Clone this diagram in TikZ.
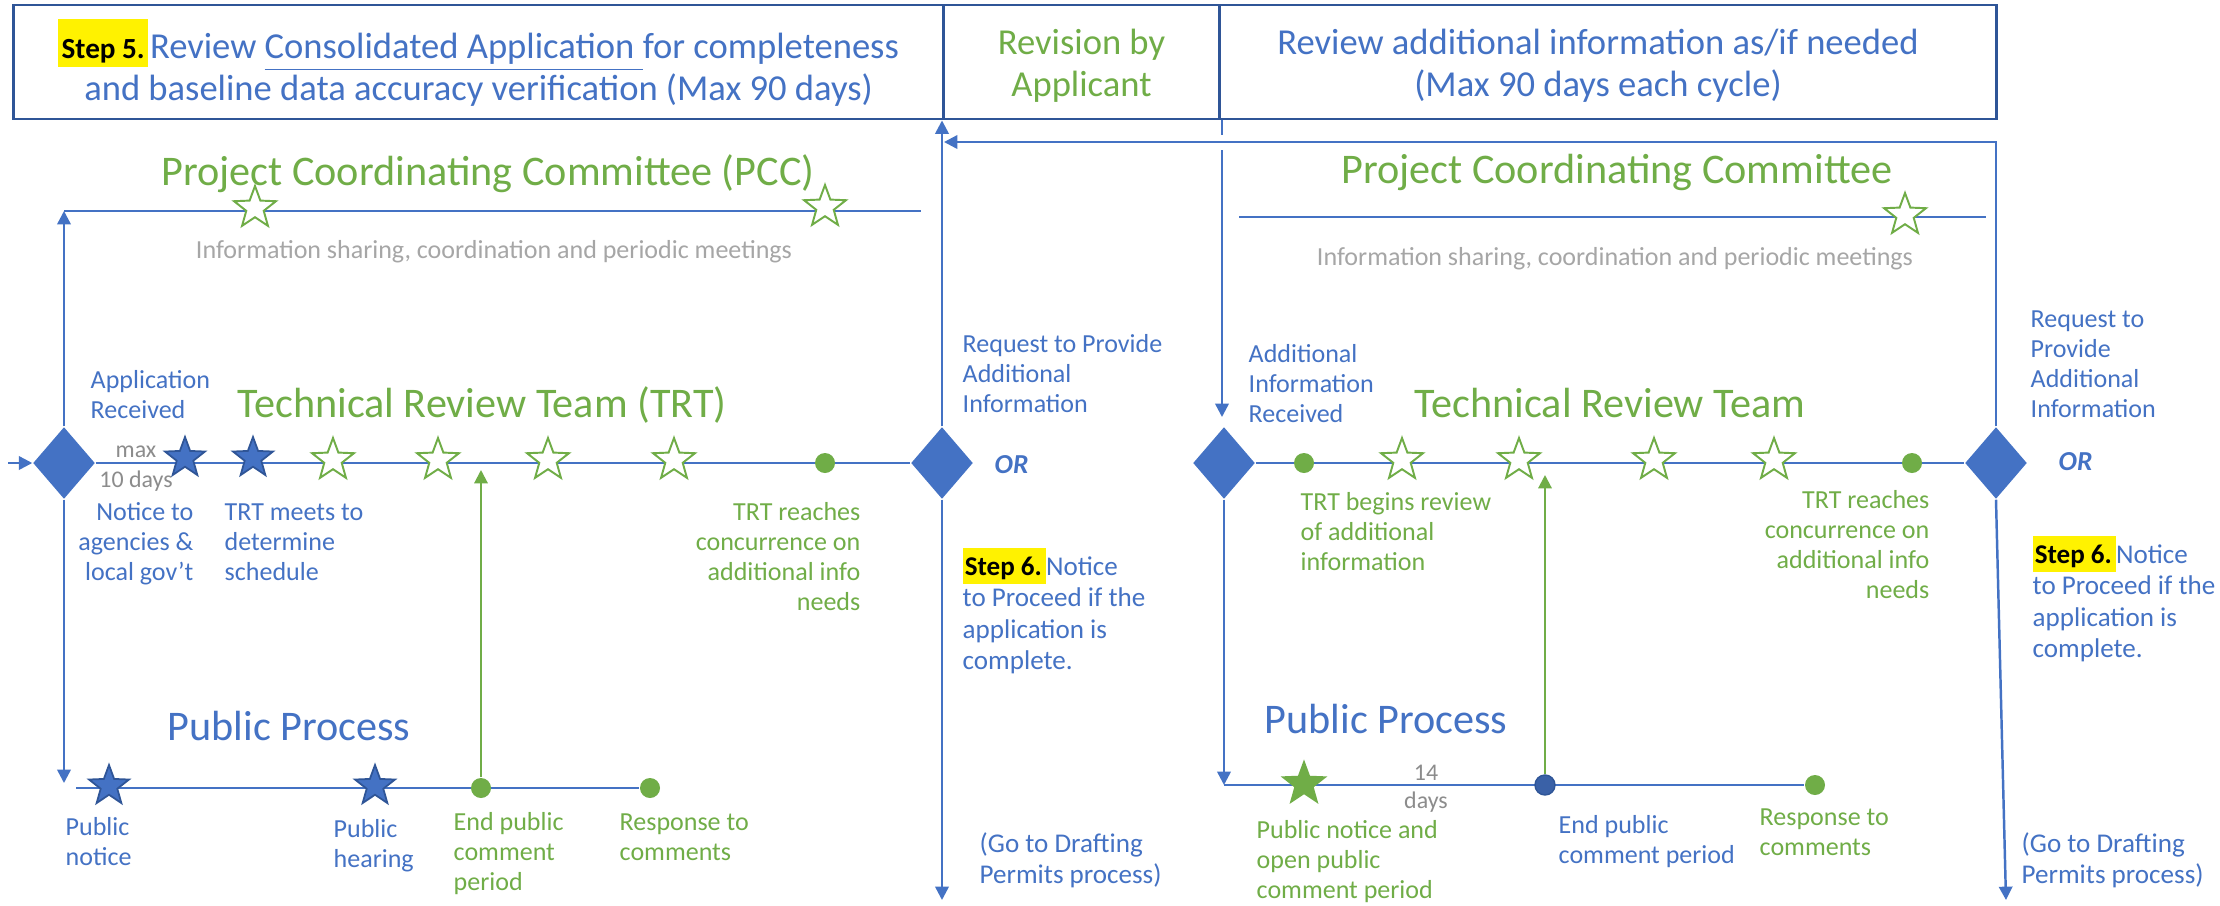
\documentclass[tikz,border=0pt]{standalone}
\usepackage{fontspec}
\setmainfont{Carlito}
\usetikzlibrary{shapes.geometric,arrows.meta,backgrounds}
\definecolor{ob}{HTML}{4472C4}
\definecolor{obd}{HTML}{2F5597}
\definecolor{og}{HTML}{70AD47}
\definecolor{gr}{HTML}{A6A6A6}
\definecolor{gd}{HTML}{8C8C8C}
\newcommand\fsm{\fontsize{7.4}{8.6}\selectfont}
\newcommand\fsx{\fontsize{7.7}{9}\selectfont}
\newcommand\fbg{\fontsize{12}{14}\selectfont}
\newcommand\fti{\fontsize{10.4}{12}\selectfont}
\newcommand\ftn{\fontsize{6.8}{8}\selectfont}
\newcommand\lft[1]{\begin{tabular}[t]{@{}l@{}}#1\end{tabular}}
\newcommand\rgt[1]{\begin{tabular}[t]{@{}r@{}}#1\end{tabular}}
\newcommand\hltA[1]{{\setlength{\fboxsep}{0pt}\colorbox{yellow}{\rule[-2.3pt]{0pt}{13.4pt}\kern1pt\textcolor{black}{\bfseries #1}\kern1pt}}}
\newcommand\hltB[1]{{\setlength{\fboxsep}{0pt}\colorbox{yellow}{\rule[-2.6pt]{0pt}{10.3pt}\kern0.6pt\textcolor{black}{\bfseries #1}\kern1.2pt}}}
\tikzset{
  ln/.style={draw=ob, line width=0.7pt},
  gln/.style={draw=og, line width=0.6pt},
  arr/.style={-{Triangle[length=3.8pt,width=3.8pt]}},
  dia/.style={diamond, fill=ob, inner sep=0pt, minimum width=0.62cm, minimum height=0.72cm},
  ostar/.style={star, star points=5, star point ratio=2.4, draw=og, fill=white, line width=0.55pt, minimum size=0.44cm, inner sep=0pt},
  bstar/.style={star, star points=5, star point ratio=2.4, draw=obd, fill=ob, line width=0.5pt, minimum size=0.42cm, inner sep=0pt},
  gstar/.style={star, star points=5, star point ratio=2.4, draw=og, fill=og, line width=0.5pt, minimum size=0.44cm, inner sep=0pt},
  gdot/.style={circle, fill=og, inner sep=0pt, minimum size=0.2cm},
  bdot/.style={circle, fill=ob!85!black, draw=obd, line width=0.4pt, inner sep=0pt, minimum size=0.2cm},
  tbox/.style={draw=obd, line width=0.8pt, minimum height=1.14cm, inner sep=0pt},
  ttxt/.style={inner sep=0pt, align=center, font=\fti},
  lbl/.style={inner sep=0pt, font=\fsm},
  big/.style={inner sep=0pt, anchor=base, font=\fbg},
}
\begin{document}
\begin{tikzpicture}[x=0.01cm, y=-0.01cm]
\useasboundingbox (0,0) rectangle (2220,905);
% top boxes
\node[tbox, minimum width=9.29cm] (B1) at (478.5,62) {};
\node[tbox, minimum width=2.77cm] (B2) at (1081.5,62) {};
\node[tbox, minimum width=7.76cm] (B3) at (1608,62) {};
\node[ttxt, text=ob] (T1) at (478.5,63)
  {\hltA{\fontsize{8.3}{10}\selectfont Step 5.}\kern0.5pt Review \underline{Consolidated Application\ }for completeness\\ and baseline data accuracy verification (Max 90 days)};
\node[ttxt, text=og] (T2) at (1081.5,66) {Revision by\\ Applicant};
\node[ttxt, text=ob] (T3) at (1598,66) {Review additional information as/if needed\\ (Max 90 days each cycle)};

% diamonds
\node[dia] (D1) at (64,463) {};
\node[dia] (D2) at (942,463) {};
\node[dia] (D3) at (1224,463) {};
\node[dia] (D4) at (1996,463) {};

% left PCC
\coordinate (P1a) at (64,211);
\coordinate (P1b) at (921,211);
\node[ostar] (s1) at (255,208) {};
\node[ostar] (s2) at (825,207) {};
\node[big, text=og] (pcc1) at (488,185) {Project Coordinating Committee (PCC)};
\node[lbl, anchor=base, text=gr] (inf1) at (494,258) {Information sharing, coordination and periodic meetings};

% left TRT
\node[big, text=og] (trt1) at (482,417) {Technical Review Team (TRT)};
\node[lbl, anchor=base west, text=ob] (apr) at (90,388) {\lft{Application\\ Received}};
\node[inner sep=0pt, anchor=base, font=\ftn, text=gd] (mx) at (136,457) {max};
\node[inner sep=0pt, anchor=base, font=\ftn, text=gd] (td) at (136,487) {10 days};
\node[bstar] (b1) at (185,458) {};
\node[bstar] (b2) at (253,458) {};
\node[ostar] (t1) at (333,460) {};
\node[ostar] (t2) at (438,460) {};
\node[ostar] (t3) at (548,460) {};
\node[ostar] (t4) at (674,460) {};
\node[gdot] (g1) at (825,463) {};
\node[lbl, anchor=base east, text=ob] (nta) at (194,520) {\rgt{Notice to\\ agencies \&\\ local gov't}};
\node[lbl, anchor=base west, text=ob] (tmd) at (224,520) {\lft{TRT meets to\\ determine\\ schedule}};
\node[lbl, anchor=base east, text=og] (trc1) at (861,520) {\rgt{TRT reaches\\ concurrence on\\ additional info\\ needs}};

% left public
\node[big, text=ob] (pp1) at (289,740) {Public Process};
\coordinate (PL0) at (76,788);
\node[bstar] (b3) at (109,786) {};
\node[bstar] (b4) at (375,786) {};
\node[gdot] (g2) at (481,788) {};
\node[gdot] (g3) at (650,788) {};
\node[lbl, anchor=base west, text=ob] (pn) at (65,835) {\lft{Public\\ notice}};
\node[lbl, anchor=base west, text=ob] (ph) at (333,837) {\lft{Public\\ hearing}};
\node[lbl, anchor=base west, text=og] (ep1) at (453,830) {\lft{End public\\ comment\\ period}};
\node[lbl, anchor=base west, text=og] (rc1) at (619,830) {\lft{Response to\\ comments}};

% middle
\node[lbl, anchor=base west, text=ob] (rq1) at (962,352) {\lft{Request to Provide\\ Additional\\ Information}};
\node[inner sep=0pt, anchor=base west, font=\fontsize{7.8}{9}\selectfont\bfseries\itshape, text=ob] (or1) at (994,473) {OR};
\node[inner sep=0pt, anchor=base west, font=\fsx, text=ob] (st1) at (962,575) {\lft{\hltB{Step 6.}Notice\\ to Proceed if the\\ application is\\ complete.}};
\node[inner sep=0pt, anchor=base west, font=\fsx, text=ob] (gt1) at (979,852) {\lft{(Go to Drafting\\ Permits process)}};

% right PCC
\node[big, text=og] (pcc2) at (1617,183) {Project Coordinating Committee};
\coordinate (P2a) at (1239,217);
\coordinate (P2b) at (1986,217);
\node[ostar] (s3) at (1905,215) {};
\node[lbl, anchor=base, text=gr] (inf2) at (1615,265) {Information sharing, coordination and periodic meetings};

% right TRT
\node[big, text=og] (trt2) at (1610,417) {Technical Review Team};
\node[lbl, anchor=base west, text=ob] (air) at (1248,362) {\lft{Additional\\ Information\\ Received}};
\node[gdot] (g4) at (1304,463) {};
\node[ostar] (t5) at (1402,460) {};
\node[ostar] (t6) at (1519,460) {};
\node[ostar] (t7) at (1654,460) {};
\node[ostar] (t8) at (1774,460) {};
\node[gdot] (g5) at (1912,463) {};
\node[lbl, anchor=base west, text=og] (tbr) at (1300,510) {\lft{TRT begins review\\ of additional\\ information}};
\node[lbl, anchor=base east, text=og] (trc2) at (1930,508) {\rgt{TRT reaches\\ concurrence on\\ additional info\\ needs}};
\node[lbl, anchor=base west, text=ob] (rq2) at (2030,327) {\lft{Request to\\ Provide\\ Additional\\ Information}};
\node[inner sep=0pt, anchor=base west, font=\fontsize{7.8}{9}\selectfont\bfseries\itshape, text=ob] (or2) at (2058,470) {OR};
\node[inner sep=0pt, anchor=base west, font=\fsx, text=ob] (st2) at (2032,563) {\lft{\hltB{Step 6.}Notice\\ to Proceed if the\\ application is\\ complete.}};
\node[inner sep=0pt, anchor=base west, font=\fsx, text=ob] (gt2) at (2021,852) {\lft{(Go to Drafting\\ Permits process)}};

% right public
\node[big, text=ob] (pp2) at (1386,733) {Public Process};
\coordinate (PR0) at (1224,785);
\node[gstar] (gs) at (1304,784) {};
\node[inner sep=0pt, anchor=base, font=\ftn, text=gd] (n14) at (1426,780) {14};
\node[inner sep=0pt, anchor=base, font=\ftn, text=gd] (nd) at (1426,808) {days};
\node[bdot] (bd) at (1545,785) {};
\node[gdot] (g6) at (1815,785) {};
\node[lbl, anchor=base west, text=og] (pno) at (1256,838) {\lft{Public notice and\\ open public\\ comment period}};
\node[lbl, anchor=base west, text=ob] (ep2) at (1558,833) {\lft{End public\\ comment period}};
\node[lbl, anchor=base west, text=og] (rc2) at (1759,825) {\lft{Response to\\ comments}};

% free ends
\coordinate (in0) at (8,463);
\coordinate (dn1) at (64,783);
\coordinate (dn2) at (942,900);
\coordinate (dn4) at (2006,900);
\coordinate (ret) at (944,142);
\coordinate (c3a) at (1222,135);
\coordinate (c3b) at (1222,150);
\coordinate (c3c) at (1222,417);
\coordinate (gu1) at (481,470);
\coordinate (gu2) at (1545,475);

\begin{scope}[on background layer]
\fill[white] (0,0) rectangle (2220,905);
\draw[ln] (P1a) -- (P1b);
\draw[ln] (P2a) -- (P2b);
\draw[ln] (D1.east) -- (D2.west);
\draw[ln] (D3.east) -- (D4.west);
\draw[ln] (PL0) -- (g3);
\draw[ln] (PR0) -- (g6);
\draw[ln,arr] (in0) -- (D1.west);
\draw[ln,arr] (D1.north) -- (P1a);
\draw[ln,arr] (D1.south) -- (dn1);
\draw[ln,arr] (D2.north) -- (D2.north |- B1.south);
\draw[ln,arr] (D2.south) -- (dn2);
\draw[ln,arr] (D4.north) |- (ret);
\draw[ln] (c3a |- B3.south) -- (c3a);
\draw[ln,arr] (c3b) -- (c3c);
\draw[ln,arr] (D3.south) -- (PR0);
\draw[ln,arr] (D4.south) -- (dn4);
\draw[gln,arr] (g2.north) -- (gu1);
\draw[gln,arr] (bd.north) -- (gu2);
\end{scope}
\end{tikzpicture}
\end{document}
